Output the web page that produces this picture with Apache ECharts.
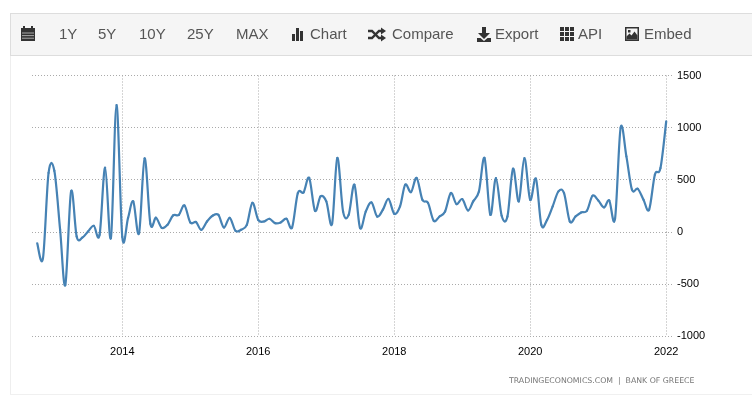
<!DOCTYPE html>
<html lang="en">
  <head>
    <meta charset="UTF-8" />
    <title>Greece chart</title>
    <script src="https://cdn.jsdelivr.net/npm/echarts@6/dist/echarts.min.js"></script>
    <style>
      html, body { margin: 0; padding: 0; background: #fff; }
    </style>
  </head>
  <body>
    <div id="main" style="width: 752px; height: 400px"></div>
    <script>
      // first point is Oct 2012, one value per month up to Jan 2022
      var startYear = 2012;
      var startMonth = 9;
      var values = [
        -110, -253, 565, 585, 20, -510, 388, -45, -55, 3,
        58, -29, 615, -58, 1215, -48, 134, 291, -13, 705,
        77, 135, 38, 67, 157, 163, 253, 90, 94, 19,
        99, 154, 163, 41, 134, 10, 19, 67, 278, 115,
        99, 125, 83, 90, 125, 41, 372, 378, 517, 202,
        340, 292, 77, 708, 195, 163, 452, 37, 195, 282,
        147, 212, 315, 173, 243, 452, 381, 517, 308, 278,
        106, 147, 195, 372, 266, 314, 205, 292, 388, 708,
        163, 516, 154, 147, 606, 292, 708, 308, 510, 67,
        115, 244, 388, 372, 99, 147, 186, 202, 346, 301,
        234, 301, 125, 997, 724, 404, 413, 308, 212, 548,
        612, 1061
      ];
      var yTicks = [-1000, 1500, 500];
      var navLabels = [
        ["1Y", 59], ["5Y", 98], ["10Y", 139], ["25Y", 187], ["MAX", 236],
        ["Chart", 310], ["Compare", 392], ["Export", 495], ["API", 578], ["Embed", 644]
      ];
      var sourceText = "TRADINGECONOMICS.COM  |  BANK OF GREECE";

      var points = values.map(function (v, i) {
        return [Date.UTC(startYear, startMonth + i, 1), v];
      });

      var iconColor = "#333";
      var gridDots = { type: [1, 2], color: "#aaa", width: 1 };
      function box(x, y, w, h, fill) {
        return {
          type: "rect",
          silent: true,
          shape: { x: x, y: y, width: w, height: h },
          style: { fill: fill || iconColor },
        };
      }
      function poly(pts, fill) {
        return {
          type: "polygon",
          silent: true,
          shape: { points: pts },
          style: { fill: fill || iconColor },
        };
      }
      function stroke(pts) {
        return {
          type: "polyline",
          silent: true,
          shape: { points: pts },
          style: { stroke: iconColor, lineWidth: 2.4, fill: null },
        };
      }

      var toolbar = [
        box(10, 13, 742, 43, "#dddddd"),
        box(11, 14, 741, 41, "#f5f5f5"),
        // 外框
        box(10, 56, 1, 339, "#eeeeee"),
        box(10, 394, 742, 1, "#f0f0f0"),
      ];
      navLabels.forEach(function (n) {
        toolbar.push({
          type: "text",
          silent: true,
          x: n[1],
          y: 35,
          style: {
            text: n[0],
            fill: "#555",
            font: "15px 'Liberation Sans', Arial, sans-serif",
            textVerticalAlign: "middle",
          },
        });
      });

      // calendar
      toolbar.push(box(21, 28, 14, 13), box(23, 26, 2, 3), box(31, 26, 2, 3));
      for (var r = 0; r < 3; r++) {
        toolbar.push(box(22, 32.5 + r * 2.6, 12, 1, "#aaa"));
      }
      // chart bars
      toolbar.push(box(292, 34, 3, 7), box(296, 28, 3, 13), box(300, 31, 3, 10));
      // shuffle
      toolbar.push(
        stroke([[368, 31], [372, 31], [379, 38], [382, 38]]),
        stroke([[368, 38], [372, 38], [379, 31], [382, 31]]),
        poly([[381, 27.5], [386, 31], [381, 34.5]]),
        poly([[381, 34.5], [386, 38], [381, 41.5]])
      );
      // export
      toolbar.push(
        poly([[482, 27], [486, 27], [486, 33], [490, 33], [484, 39], [478, 33], [482, 33]]),
        poly([[477, 38], [480.5, 38], [484, 41], [487.5, 38], [491, 38], [491, 42], [477, 42]])
      );
      // api grid
      for (var a = 0; a < 3; a++) {
        for (var b = 0; b < 3; b++) {
          toolbar.push(box(560 + a * 5, 27 + b * 5, 4, 4));
        }
      }
      // embed picture
      toolbar.push(
        box(625, 27, 14, 14),
        box(626.5, 28.5, 11, 11, "#f5f5f5"),
        box(628, 30, 2.5, 2.5),
        poly([[626.5, 39.5], [626.5, 36.5], [629.5, 33.5], [631.5, 35.5], [634.5, 31.5], [637.5, 35.5], [637.5, 39.5]])
      );
      toolbar.push({
        type: "text",
        silent: true,
        x: 509,
        y: 380.5,
        style: {
          text: sourceText,
          fill: "#777",
          font: "7.8px 'DejaVu Sans', sans-serif",
          textVerticalAlign: "middle",
        },
      });

      // 样条: the reference curve overshoots its points, the built-in smooth clamps them
      function renderSegment(params, api) {
        var i = params.dataIndex;
        if (i === 0) return null;
        var at = function (k) {
          return api.coord(points[Math.max(0, Math.min(points.length - 1, k))]);
        };
        var p0 = at(i - 2);
        var p1 = at(i - 1);
        var p2 = at(i);
        var p3 = at(i + 1);
        return {
          type: "bezierCurve",
          shape: {
            x1: p1[0],
            y1: p1[1],
            cpx1: p1[0] + (p2[0] - p0[0]) / 6,
            cpy1: p1[1] + (p2[1] - p0[1]) / 6,
            cpx2: p2[0] - (p3[0] - p1[0]) / 6,
            cpy2: p2[1] - (p3[1] - p1[1]) / 6,
            x2: p2[0],
            y2: p2[1],
          },
          style: { stroke: "#4682b4", lineWidth: 2.2, fill: null, lineCap: "round" },
        };
      }

      var myChart = echarts.init(document.getElementById("main"));
      var option = {
        animation: false,
        backgroundColor: "#fff",
        grid: { left: 32, right: 80, top: 75.5, bottom: 64 },
        xAxis: {
          type: "time",
          min: Date.UTC(2012, 8, 3),
          max: Date.UTC(2022, 1, 1),
          splitNumber: 5,
          axisLine: { show: false },
          axisTick: {
            show: true,
            length: 6,
            lineStyle: gridDots,
          },
          minorTick: { show: false },
          splitLine: {
            show: true,
            showMinLine: false,
            showMaxLine: false,
            lineStyle: gridDots,
          },
          axisLabel: {
            formatter: "{yyyy}",
            color: "#000",
            fontSize: 11,
            fontFamily: "'Liberation Sans', Arial, sans-serif",
            margin: 10,
            hideOverlap: false,
          },
        },
        yAxis: {
          type: "value",
          position: "right",
          min: yTicks[0],
          max: yTicks[1],
          interval: yTicks[2],
          axisLine: { show: false },
          axisTick: { show: false },
          splitLine: {
            show: true,
            lineStyle: gridDots,
          },
          axisLabel: {
            formatter: function (v) {
              return String(v);
            },
            color: "#000",
            fontSize: 11,
            fontFamily: "'Liberation Sans', Arial, sans-serif",
            margin: 5,
          },
        },
        series: [
          {
            type: "custom",
            data: points,
            encode: { x: 0, y: 1 },
            renderItem: renderSegment,
          },
        ],
        graphic: toolbar,
      };
      myChart.setOption(option);
    </script>
  </body>
</html>
